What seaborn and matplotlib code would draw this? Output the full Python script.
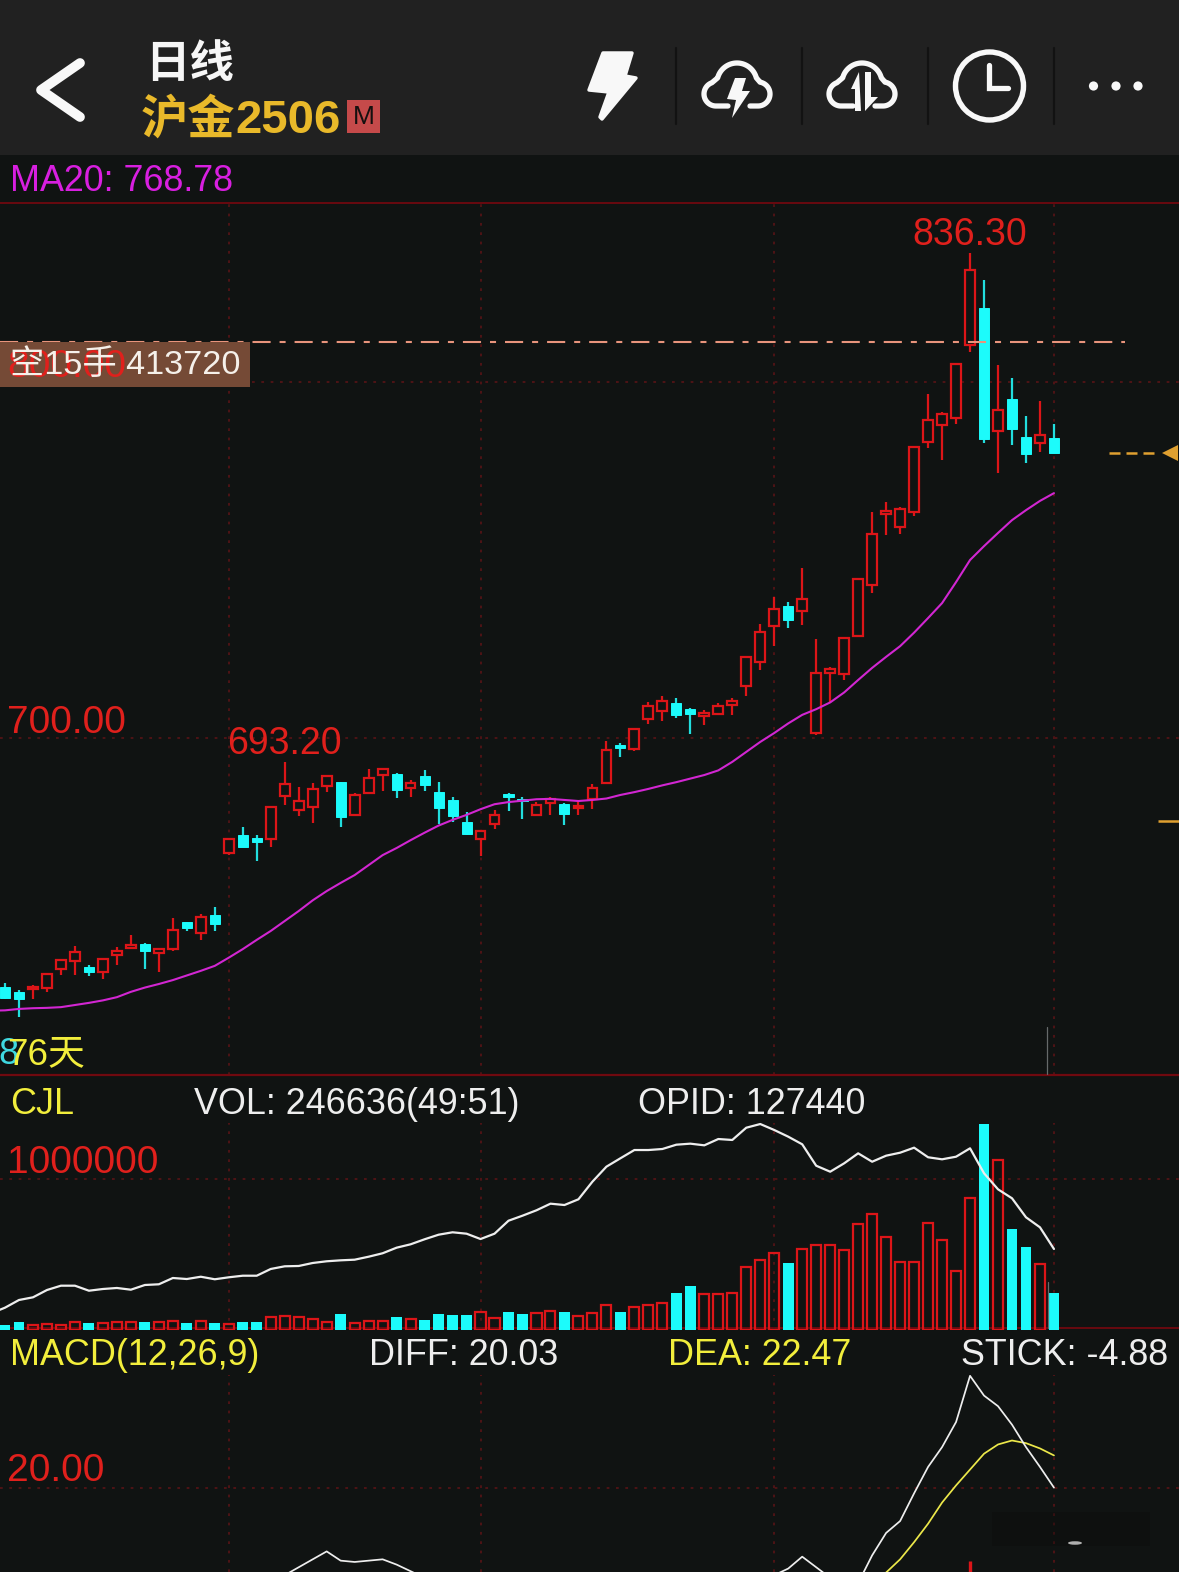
import numpy as np
import matplotlib
matplotlib.use('Agg')
import matplotlib.pyplot as plt
from matplotlib.patches import Rectangle, Circle, Ellipse, Polygon
import seaborn as sns

# --- data ---
open_ = [630.1, 628.7, 629.4, 629.8, 635.1, 637.4, 635.7, 634.3, 639.0, 641.0, 642.1, 639.6, 640.7, 648.3, 645.2, 650.3,
         667.7, 672.8, 671.9, 671.6, 683.7, 679.8, 680.6, 686.5, 687.6, 678.4, 684.6, 689.6, 689.9, 686.0, 689.3, 684.8,
         682.6, 676.4, 671.6, 675.8, 684.3, 682.9, 678.4, 681.7, 681.5, 680.3, 682.9, 687.4, 698.0, 696.9, 705.3, 707.6,
         709.8, 708.1, 706.2, 706.7, 709.3, 714.6, 721.3, 731.5, 737.1, 735.7, 701.4, 718.3, 718.0, 728.7, 743.0, 762.9,
         759.3, 763.5, 783.1, 787.9, 789.9, 810.4, 820.8, 786.2, 795.2, 784.6, 782.9, 784.3]
close_ = [627.0, 626.7, 630.1, 633.7, 637.6, 639.9, 634.3, 637.9, 640.2, 641.9, 640.2, 640.7, 646.1, 646.6, 649.7, 647.8,
          671.6, 669.4, 670.8, 680.6, 687.1, 682.3, 685.7, 689.3, 677.8, 684.0, 688.8, 691.3, 685.4, 687.4, 686.8, 680.3,
          678.1, 673.0, 673.9, 678.4, 683.4, 682.3, 681.2, 682.9, 678.7, 680.9, 686.0, 696.6, 697.2, 702.5, 709.0, 710.4,
          706.5, 706.7, 707.0, 709.0, 710.4, 722.8, 729.8, 736.2, 733.1, 739.0, 718.3, 719.4, 728.1, 744.7, 757.3, 763.8,
          764.3, 781.7, 789.3, 791.0, 805.1, 831.5, 784.0, 792.1, 786.8, 779.8, 785.1, 780.1]
high = [631.2, 629.2, 630.6, 634.0, 637.6, 641.6, 636.2, 638.2, 641.3, 644.7, 642.4, 641.0, 649.4, 648.3, 650.6, 652.5,
        671.9, 675.0, 672.8, 680.6, 693.2, 686.2, 687.4, 689.6, 687.6, 684.6, 691.3, 691.6, 690.2, 688.2, 691.0, 687.6,
        683.4, 679.2, 674.2, 679.8, 684.6, 683.4, 682.0, 683.4, 681.7, 682.0, 687.1, 699.2, 698.6, 702.8, 710.1, 711.8,
        711.2, 708.4, 707.9, 709.8, 711.2, 722.8, 732.0, 739.6, 738.2, 747.8, 727.8, 719.9, 728.4, 744.7, 763.5, 766.3,
        764.9, 782.0, 796.6, 791.6, 805.3, 836.3, 828.7, 804.8, 801.1, 790.4, 794.7, 788.2]
low = [626.7, 621.6, 626.7, 628.7, 633.4, 633.4, 633.1, 632.3, 636.2, 640.7, 635.1, 634.3, 640.2, 645.8, 643.3, 645.8,
       667.1, 669.4, 665.4, 669.4, 681.2, 678.1, 676.1, 684.8, 675.0, 678.1, 684.6, 685.1, 683.1, 683.4, 685.1, 675.8,
       676.4, 672.8, 666.9, 674.4, 679.5, 677.2, 678.1, 678.4, 675.6, 678.4, 680.1, 687.1, 694.7, 696.3, 703.9, 704.8,
       705.6, 701.1, 703.7, 706.5, 706.5, 711.8, 719.1, 725.8, 730.9, 731.7, 700.8, 709.8, 716.3, 728.7, 740.7, 757.0,
       757.3, 762.4, 781.5, 778.1, 788.2, 808.4, 782.9, 774.4, 782.3, 777.2, 780.3, 780.1]
# first value of the two lines below belongs to the bar just off the left edge
ma20 = [623.4, 623.5, 623.9, 624.1, 624.2, 624.4, 625.0, 625.6, 626.3, 627.2, 628.7, 629.9, 630.9, 632.0, 633.3, 634.6, 636.0,
        638.3, 640.7, 643.3, 645.8, 648.6, 651.4, 654.4, 657.0, 659.3, 661.5, 664.3, 667.1, 669.1, 671.3, 673.4, 675.4,
        677.0, 678.4, 680.0, 681.4, 682.0, 682.4, 682.8, 682.9, 682.6, 682.3, 682.6, 683.0, 684.0, 684.8, 685.7, 686.7,
        687.6, 688.6, 689.6, 690.9, 693.3, 696.1, 698.9, 701.4, 704.1, 706.5, 708.1, 710.0, 712.8, 716.3, 719.7, 722.8,
        725.8, 729.6, 733.7, 737.9, 743.8, 750.0, 753.9, 757.6, 761.2, 764.0, 766.6, 768.78]
opid = [26200, 35100, 47200, 51400, 62900, 69700, 69700, 61800, 64500, 66100, 63400, 70800, 71900, 81800, 80200, 83800, 79800,
        82900, 85400, 85400, 96000, 100200, 100700, 105400, 108100, 109600, 110600, 115300, 120700, 129500, 134800, 142700, 149900,
        153700, 151500, 143100, 151500, 171900, 179800, 188300, 198700, 196600, 205600, 233300, 256900, 270100, 283100, 283100,
        284700, 291500, 293100, 290500, 300400, 298900, 318200, 324000, 314600, 304100, 292100, 258400, 249000, 262200, 277900,
        264700, 274200, 278900, 286800, 271700, 268500, 272600, 285800, 246500, 221300, 207200, 177300, 161500, 127440]
volume = [33000, 51000, 33000, 40000, 33000, 51000, 46000, 44000, 51000, 53000, 53000, 55000, 60000, 49000, 60000, 44000,
          40000, 55000, 55000, 88000, 93000, 84000, 75000, 53000, 108000, 44000, 62000, 62000, 88000, 75000, 66000, 108000,
          97000, 100000, 117000, 80000, 117000, 108000, 113000, 128000, 117000, 95000, 113000, 166000, 117000, 150000, 166000, 181000,
          243000, 290000, 241000, 241000, 248000, 418000, 467000, 513000, 442000, 540000, 562000, 562000, 529000, 706000, 772000, 615000,
          449000, 451000, 708000, 599000, 389000, 874000, 1369000, 1128000, 668000, 549000, 438000, 246636]
# only the top of the MACD pane is on screen, so the lines come in visible stretches
diff_parts = [(20, [13.4, 14.0, 14.6, 15.2, 14.5, 14.4, 14.5, 14.6, 14.2, 13.7, 13.2]),
              (55, [13.4, 13.9, 14.8, 14.0, 13.2]),
              (61, [12.8, 14.9, 16.6, 17.5, 19.6, 21.6, 23.1, 25.0, 28.5, 27.0, 26.2, 24.8, 23.1, 21.6, 20.03])]
dea_start = 62
dea = [13.0, 13.6, 14.6, 15.9, 17.3, 18.9, 20.2, 21.4, 22.6, 23.3, 23.6, 23.4, 23.0, 22.47]
stick_idx = [69]
stick_val = [14.5]
day_lines = [16, 34, 55, 75]
position_price = 811.2
marker_price = 676.8

BG = '#101312'
HEADER = '#212121'
RED = '#dc1518'
LABEL_RED = '#e0201c'
CYAN = '#1cfbfb'
WICK_CYAN = '#22dede'
PINK = '#d226d2'
MAGENTA = '#d81fe0'
YELLOW = '#f2ee3c'
WHITE = '#eeeeee'
ORANGE = '#dfa030'
GRID = '#4e1416'
RULE = '#70090f'
W, H = 1179, 1572

sns.set_theme(style='dark', rc={'figure.facecolor': BG, 'axes.facecolor': BG})
plt.rcParams['font.family'] = ['Liberation Sans', 'Noto Sans CJK SC', 'DejaVu Sans']

fig = plt.figure(figsize=(W / 100, H / 100), dpi=100)


def pane(top, bottom):
    return fig.add_axes([0, 1 - bottom / H, 1, (bottom - top) / H])


ax = pane(203, 1075)
ax_vol = pane(1075, 1330)
ax_macd = pane(1330, H)

idx = np.arange(len(close_))
line_idx = np.arange(-1, len(close_))
open_a, close_a = np.array(open_), np.array(close_)
is_up = close_a >= open_a
XLIM = (-0.3575, 83.94)

# price pane
body_low = np.minimum(open_a, close_a)
body_h = np.abs(close_a - open_a)
ax.vlines(idx[is_up], np.array(low)[is_up], np.array(high)[is_up], color=RED, lw=1.6, zorder=2)
ax.vlines(idx[~is_up], np.array(low)[~is_up], np.array(high)[~is_up], color=WICK_CYAN, lw=1.6, zorder=2)
ax.bar(idx[is_up], body_h[is_up], bottom=body_low[is_up], width=0.7, facecolor=BG, edgecolor=RED, linewidth=1.6, zorder=3)
ax.bar(idx[~is_up], body_h[~is_up], bottom=body_low[~is_up], width=0.72, color=CYAN, edgecolor=CYAN, linewidth=0.7, zorder=3)
sns.lineplot(x=line_idx, y=ma20, ax=ax, color=PINK, linewidth=1.5, errorbar=None, estimator=None, zorder=4)

for y in [700, 800]:
    ax.axhline(y, color=GRID, lw=1.4, ls=(0, (1.4, 3.4)), zorder=1)
for x in day_lines:
    ax.axvline(x, color=GRID, lw=1.4, ls=(0, (1.4, 3.4)), zorder=1)

ax.hlines(position_price, XLIM[0], 80.07, color='#e8947c', lw=1.5, ls=(0, (8.7, 4.3, 2.9, 4.3)), zorder=5)
ax.hlines(close_[-1], 78.93, 82.36, color=ORANGE, lw=1.8, ls=(0, (4.4, 2.4)), zorder=5)
ax.plot([83.33], [close_[-1]], marker='<', ms=12.2, color=ORANGE, mew=0, zorder=5)
ax.hlines(marker_price, 82.43, XLIM[1], color=ORANGE, lw=1.8, zorder=5)

ax.set_xlim(*XLIM)
ax.set_ylim(605.34, 850.28)

# position tag sits over the 800 label
ytr = ax.get_yaxis_transform()
ax.add_patch(Rectangle((0, 798.6), 250 / W, position_price - 798.6, transform=ytr, facecolor='#754a36', edgecolor='none', zorder=6))


def axis_label(a, y, text, up, size=28):
    a.annotate(text, xy=(7 / W, y), xycoords=a.get_yaxis_transform(), xytext=(0, up), textcoords='offset pixels',
               color=LABEL_RED, fontsize=size, va='baseline', ha='left', zorder=7, annotation_clip=False)


axis_label(ax, 700, '700.00', 5)
axis_label(ax, 800, '800.00', 5)
ax.text(10 / W, 802.2, '空15手 413720', transform=ytr, color='#f5f0ea', fontsize=24.7, va='baseline', zorder=8)
for i_label, text in [(20, '693.20'), (69, '836.30')]:
    ax.annotate(text, xy=(i_label, high[i_label]), xytext=(0, 8), textcoords='offset pixels', color=LABEL_RED,
                fontsize=27, ha='center', va='baseline', zorder=7)

# volume pane
sns.barplot(x=idx[is_up], y=np.array(volume)[is_up], ax=ax_vol, native_scale=True, width=0.72, fill=False, color=RED,
            saturation=1, linewidth=1.6, errorbar=None, zorder=3)
sns.barplot(x=idx[~is_up], y=np.array(volume)[~is_up], ax=ax_vol, native_scale=True, width=0.78, color=CYAN,
            saturation=1, linewidth=0, errorbar=None, zorder=3)
ax_vol.axhline(1000000, color=GRID, lw=1.4, ls=(0, (1.4, 3.4)), zorder=1)
ax_vol.axhline(13000, color=RULE, lw=1.3, zorder=1)
for x in day_lines:
    ax_vol.axvline(x, ymax=0.812, color=GRID, lw=1.4, ls=(0, (1.4, 3.4)), zorder=1)
ax_vol.set_xlim(*XLIM)
ax_vol.set_ylim(0, 1692180)
axis_label(ax_vol, 1000000, '1000000', 6)

ax_oi = ax_vol.twinx()
sns.lineplot(x=line_idx, y=opid, ax=ax_oi, color=WHITE, linewidth=1.6, errorbar=None, estimator=None, zorder=5)
ax_oi.set_xlim(*XLIM)
ax_oi.set_ylim(0, 401115)

# MACD pane
ax_macd.axhline(20, color=GRID, lw=1.4, ls=(0, (1.4, 3.4)), zorder=1)
for x in day_lines:
    ax_macd.axvline(x, ymax=0.814, color=GRID, lw=1.4, ls=(0, (1.4, 3.4)), zorder=1)
ax_macd.vlines(stick_idx, 0, stick_val, color=RED, lw=2.4, zorder=2)
for start, vals in diff_parts:
    sns.lineplot(x=np.arange(start, start + len(vals)), y=vals, ax=ax_macd, color=WHITE, linewidth=1.25,
                 errorbar=None, estimator=None, zorder=4)
sns.lineplot(x=np.arange(dea_start, dea_start + len(dea)), y=dea, ax=ax_macd, color='#ece84a', linewidth=1.25,
             errorbar=None, estimator=None, zorder=3)
ax_macd.set_xlim(*XLIM)
ax_macd.set_ylim(13.64, 31.97)
axis_label(ax_macd, 20, '20.00', 7)

for a in [ax, ax_vol, ax_oi, ax_macd]:
    a.set_axis_off()

# overlay in screen pixels: header, pane captions, icons
ui = fig.add_axes([0, 0, 1, 1])
ui.set_xlim(0, W)
ui.set_ylim(H, 0)
ui.set_axis_off()
ui.patch.set_alpha(0)
ui.add_patch(Rectangle((0, 0), W, 155, facecolor=HEADER, edgecolor='none'))
ui.plot([0, W], [202.5, 202.5], color=RULE, lw=1.3)
ui.plot([0, W], [1074.5, 1074.5], color=RULE, lw=1.6)
ui.plot([1047, 1047], [1027, 1074], color='#666a6a', lw=0.9)
ui.plot([1048, 1048], [1282, 1328], color='#666a6a', lw=0.9)


def caption(x, y, text, color, size=25.85, **kw):
    ui.text(x, y, text, color=color, fontsize=size, va='baseline', ha='left', **kw)


caption(10, 191, 'MA20: 768.78', MAGENTA)
caption(-2, 1064, '8', '#3fd8e0', size=26)
caption(7, 1064, '76天', YELLOW, size=26.5)
caption(10, 1114, 'CJL', YELLOW)
caption(194, 1114, 'VOL: 246636(49:51)', WHITE)
caption(638, 1114, 'OPID: 127440', WHITE)
caption(10, 1365, 'MACD(12,26,9)', YELLOW)
caption(369, 1365, 'DIFF: 20.03', WHITE)
caption(668, 1365, 'DEA: 22.47', YELLOW)
caption(961, 1365, 'STICK: -4.88', WHITE)

caption(145, 77, '日线', '#f6f6f6', size=32, fontweight='bold', family=['Noto Sans CJK SC'])
caption(141, 134, '沪金', '#e9b92a', size=34, fontweight='bold', family=['Noto Sans CJK SC'])
caption(235, 133, '2506', '#e9b92a', size=34, fontweight='bold')
ui.add_patch(Rectangle((347, 100), 33, 33, facecolor='#c54a4a', edgecolor='none'))
ui.text(363.5, 117, 'M', color='#15100f', fontsize=19, ha='center', va='center')

ICON = '#f8f8f8'
ui.plot([80, 41, 80], [63, 90, 117], color=ICON, lw=7, solid_capstyle='round', solid_joinstyle='round')
ui.add_patch(Polygon([(603, 53), (632, 53), (625, 76), (636, 78), (602, 119), (600, 117), (609, 92), (589, 90)],
                     closed=True, facecolor=ICON, edgecolor=ICON, lw=2.5, joinstyle='round'))
for x in [676, 802, 928, 1054]:
    ui.plot([x, x], [48, 124], color='#121212', lw=1.6)


def arc(cx, cy, r, a0, a1):
    t = np.radians(np.linspace(a0, a1, 40))
    return cx + r * np.cos(t), cy - r * np.sin(t)


def cloud(dx):
    ax1, ay1 = arc(716 + dx, 94, 12, 270, 110)
    ax2, ay2 = arc(737 + dx, 83, 20, 165, 15)
    ax3, ay3 = arc(758 + dx, 94, 12, 80, -90)
    ui.plot(np.r_[728 + dx, ax1, ax2, ax3, 750 + dx], np.r_[106, ay1, ay2, ay3, 106], color=ICON, lw=3.8)


cloud(0)
ui.add_patch(Polygon([(735, 78), (746, 78), (742, 91), (750, 91), (732, 118), (736, 100), (727, 99)], closed=True, facecolor=ICON, edgecolor='none'))
cloud(125)
ui.add_patch(Polygon([(859, 72), (851, 89), (855, 89), (855, 111), (861, 111)], closed=True, facecolor=ICON, edgecolor='none'))
ui.add_patch(Polygon([(865, 72), (871, 72), (871, 97), (878, 97), (865, 111)], closed=True, facecolor=ICON, edgecolor='none'))
ui.add_patch(Circle((989.5, 86), 34, facecolor='none', edgecolor=ICON, lw=3.9))
ui.plot([989, 989, 1008], [65, 88, 88], color=ICON, lw=3.8, solid_joinstyle='miter')
for x in [1093.5, 1116, 1138]:
    ui.add_patch(Circle((x, 86), 4.6, facecolor=ICON, edgecolor='none'))

# blurred watermark in the corner
ui.add_patch(Rectangle((992, 1512), 158, 34, facecolor='#0b0c0c', edgecolor='none', alpha=0.35))
ui.add_patch(Ellipse((1075, 1543), 14, 3.5, facecolor='#d8d8d8', edgecolor='none', alpha=0.8))

fig.savefig('out.png', dpi=100, facecolor=BG)
